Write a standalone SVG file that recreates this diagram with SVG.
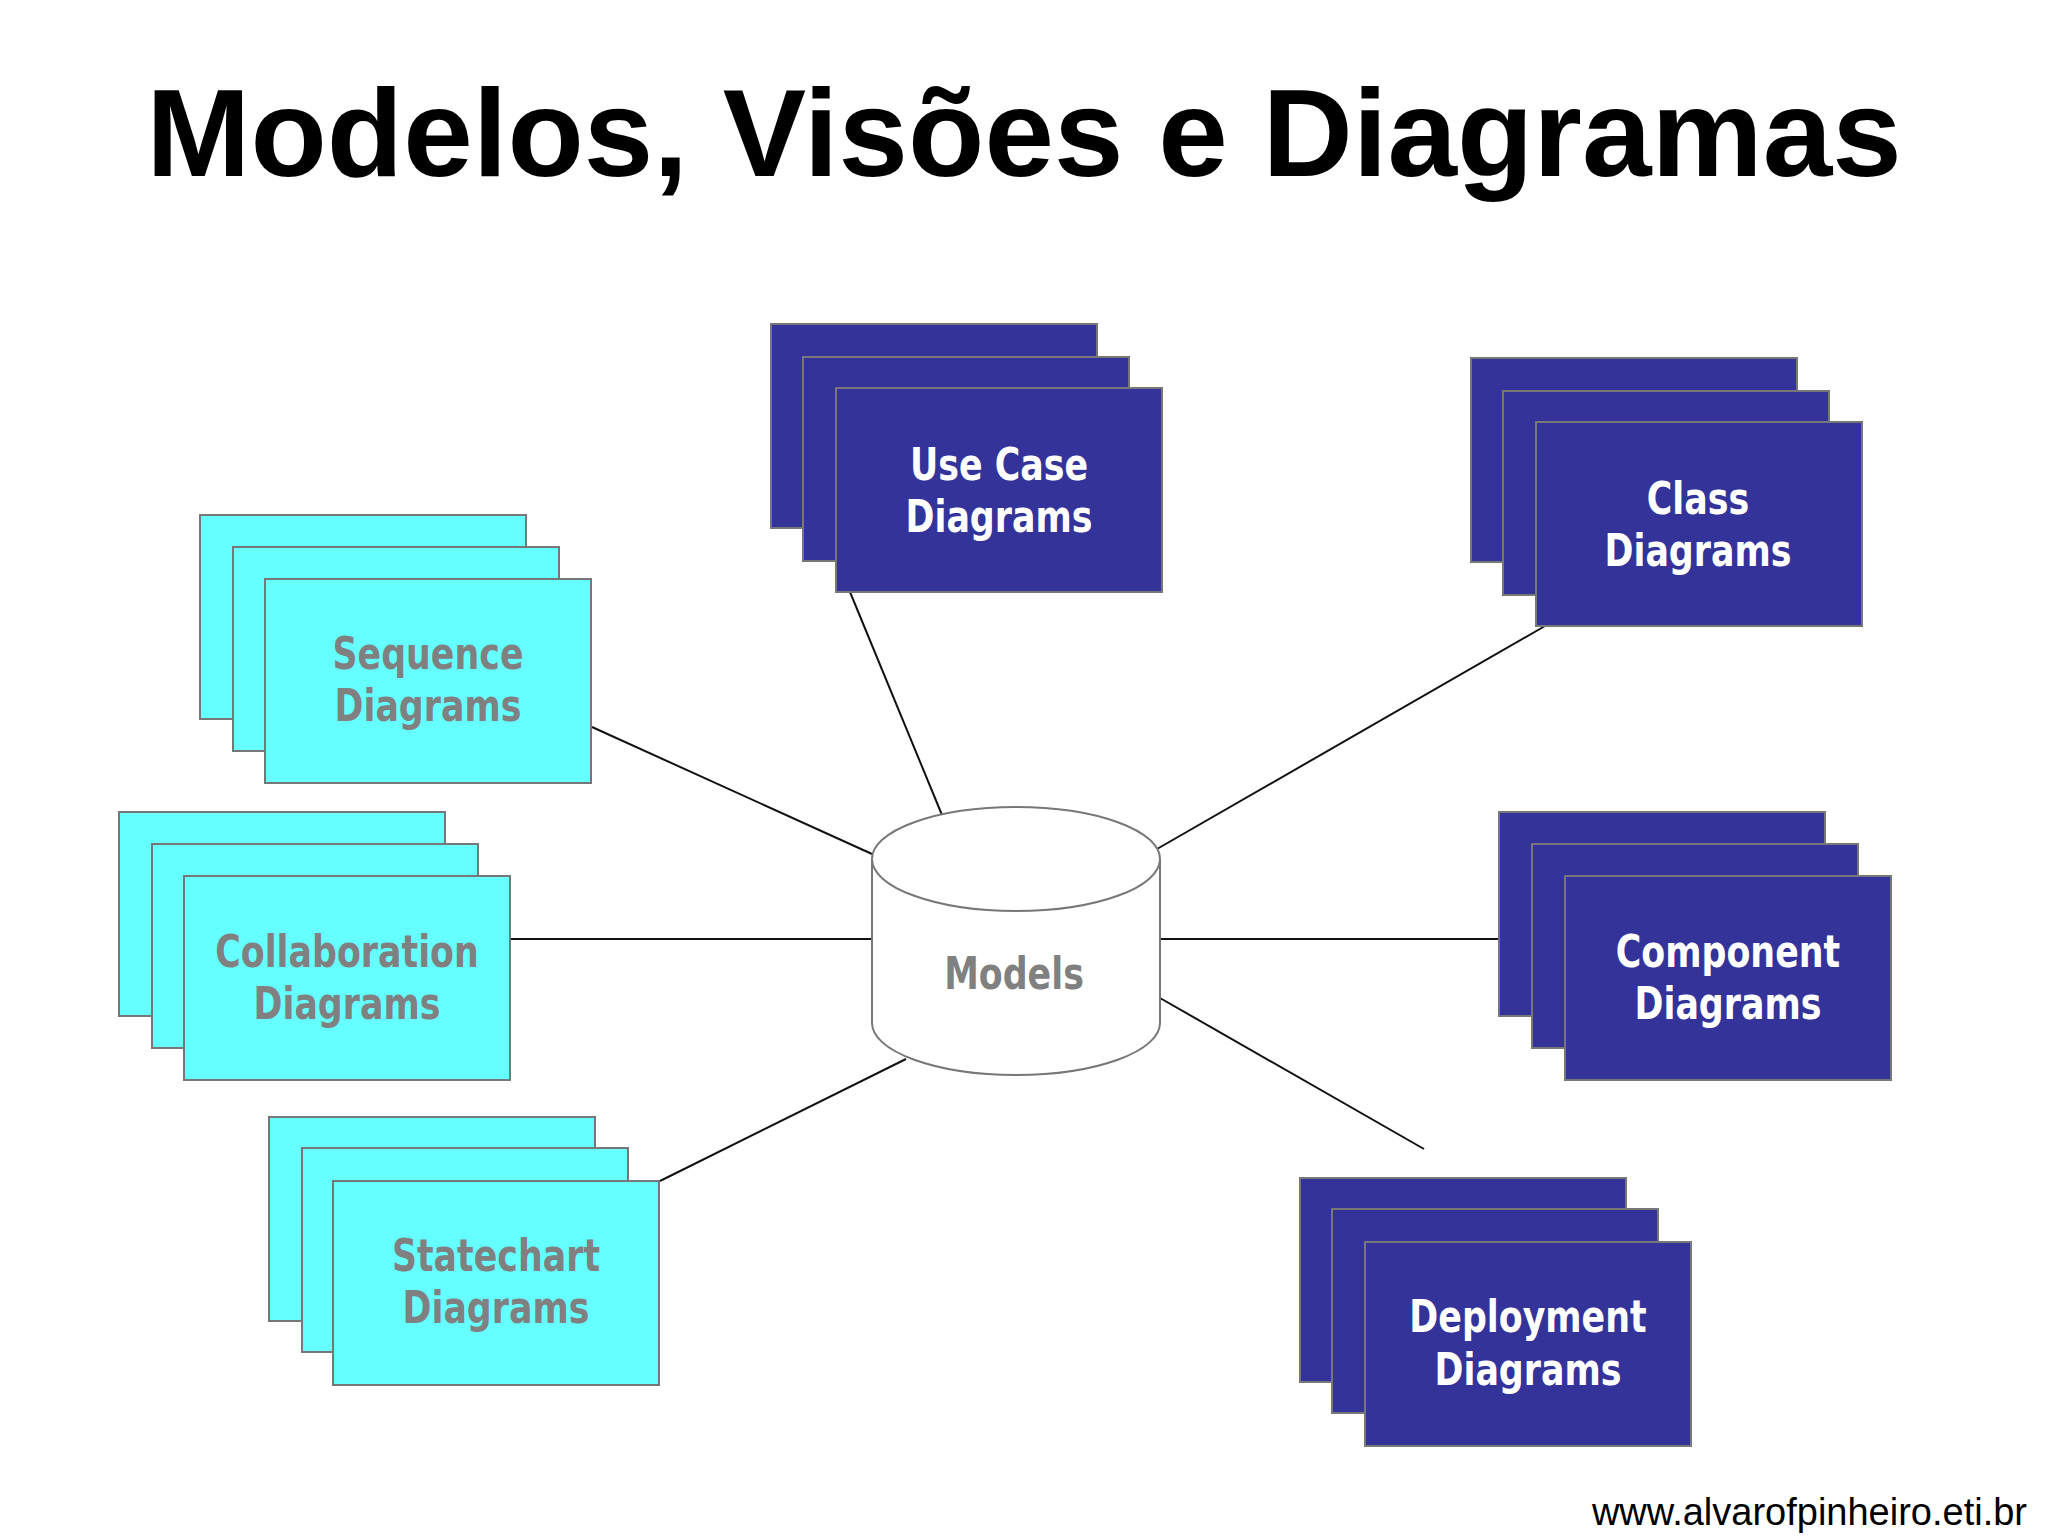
<svg xmlns="http://www.w3.org/2000/svg" width="2048" height="1536" viewBox="0 0 2048 1536">
<style>
.d{fill:#333399;stroke:#777;stroke-width:2}
.c{fill:#66FFFF;stroke:#777;stroke-width:2}
.t{font-family:"DejaVu Sans Condensed","DejaVu Sans",sans-serif;font-weight:bold;font-size:45px;text-anchor:middle;dominant-baseline:central;transform-box:fill-box;transform-origin:center;transform:scaleX(0.86)}
.tw{fill:#fff}.tg{fill:#808080}
.ln{stroke:#111;stroke-width:2;fill:none}
</style>
<rect width="2048" height="1536" fill="#fff"/>
<text x="1024" y="176" font-family="Liberation Sans,Arial,sans-serif" font-weight="bold" font-size="125" text-anchor="middle" fill="#000">Modelos, Visões e Diagramas</text>
<g id="connectors">
<line class="ln" x1="850" y1="592" x2="942" y2="815"/>
<line class="ln" x1="1545" y1="626" x2="1157" y2="849"/>
<line class="ln" x1="592" y1="727" x2="872" y2="854"/>
<line class="ln" x1="511" y1="939" x2="872" y2="939"/>
<line class="ln" x1="1160" y1="939" x2="1499" y2="939"/>
<line class="ln" x1="660" y1="1181" x2="906" y2="1059"/>
<line class="ln" x1="1160" y1="998" x2="1424" y2="1149"/>
</g>
<g id="usecase">
<rect class="d" x="771" y="324" width="326" height="204"/>
<rect class="d" x="803" y="357" width="326" height="204"/>
<rect class="d" x="836" y="388" width="326" height="204"/>
<text class="t tw" x="999" y="464">Use Case</text><text class="t tw" x="999" y="516">Diagrams</text>
</g>
<g id="class">
<rect class="d" x="1471" y="358" width="326" height="204"/>
<rect class="d" x="1503" y="391" width="326" height="204"/>
<rect class="d" x="1536" y="422" width="326" height="204"/>
<text class="t tw" x="1698" y="498">Class</text><text class="t tw" x="1698" y="550">Diagrams</text>
</g>
<g id="sequence">
<rect class="c" x="200" y="515" width="326" height="204"/>
<rect class="c" x="233" y="547" width="326" height="204"/>
<rect class="c" x="265" y="579" width="326" height="204"/>
<text class="t tg" x="428" y="653">Sequence</text><text class="t tg" x="428" y="705">Diagrams</text>
</g>
<g id="collaboration">
<rect class="c" x="119" y="812" width="326" height="204"/>
<rect class="c" x="152" y="844" width="326" height="204"/>
<rect class="c" x="184" y="876" width="326" height="204"/>
<text class="t tg" x="347" y="951">Collaboration</text><text class="t tg" x="347" y="1003">Diagrams</text>
</g>
<g id="statechart">
<rect class="c" x="269" y="1117" width="326" height="204"/>
<rect class="c" x="302" y="1148" width="326" height="204"/>
<rect class="c" x="333" y="1181" width="326" height="204"/>
<text class="t tg" x="496" y="1255">Statechart</text><text class="t tg" x="496" y="1307">Diagrams</text>
</g>
<g id="component">
<rect class="d" x="1499" y="812" width="326" height="204"/>
<rect class="d" x="1532" y="844" width="326" height="204"/>
<rect class="d" x="1565" y="876" width="326" height="204"/>
<text class="t tw" x="1728" y="951">Component</text><text class="t tw" x="1728" y="1003">Diagrams</text>
</g>
<g id="deployment">
<rect class="d" x="1300" y="1178" width="326" height="204"/>
<rect class="d" x="1332" y="1209" width="326" height="204"/>
<rect class="d" x="1365" y="1242" width="326" height="204"/>
<text class="t tw" x="1528" y="1316">Deployment</text><text class="t tw" x="1528" y="1369">Diagrams</text>
</g>
<g id="models">
<path d="M872,859 V1023 A144,52 0 0 0 1160,1023 V859" fill="#fff" stroke="#777" stroke-width="2"/>
<ellipse cx="1016" cy="859" rx="144" ry="52" fill="#fff" stroke="#777" stroke-width="2"/>
<text class="t tg" x="1014" y="973">Models</text>
</g>
<text x="2027" y="1525" font-family="Liberation Sans,Arial,sans-serif" font-size="38" text-anchor="end" fill="#000">www.alvarofpinheiro.eti.br</text>
</svg>
